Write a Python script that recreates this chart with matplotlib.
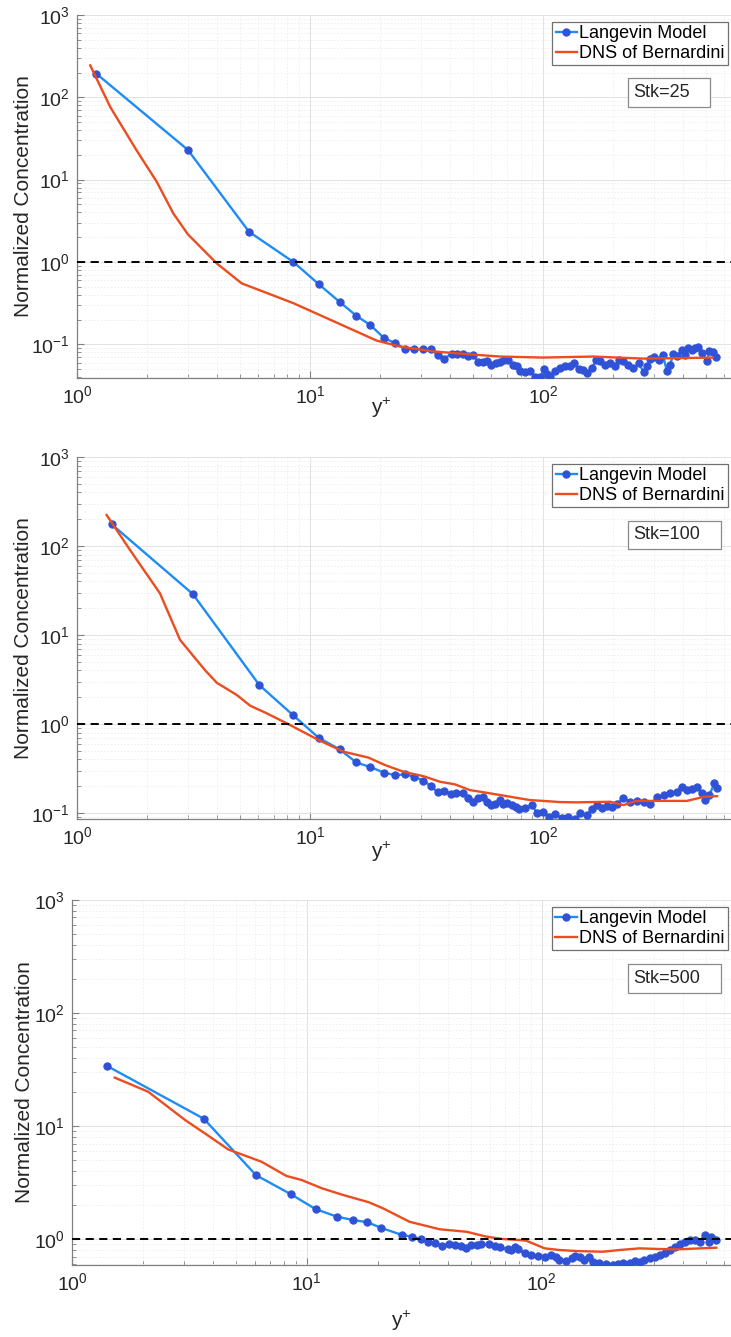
import matplotlib
matplotlib.use('Agg')
import matplotlib.pyplot as plt
from matplotlib.patches import Rectangle

plt.rcParams['font.family'] = ['Liberation Sans', 'DejaVu Sans']
plt.rcParams['mathtext.fontset'] = 'custom'
plt.rcParams['mathtext.rm'] = 'Liberation Sans'
plt.rcParams['mathtext.it'] = 'Liberation Sans:italic'
plt.rcParams['mathtext.default'] = 'regular'
plt.rcParams['axes.unicode_minus'] = False

# ---- Stk = 25 ----
stk25_lang_x = [1.21, 2.99, 5.47, 8.48, 10.9, 13.4, 15.8, 18.1, 20.8, 23.2, 25.6, 28.0, 30.6, 32.9,
                35.3, 37.7, 40.5, 42.9, 45.2, 47.5, 49.9, 52.7, 55.1, 57.3, 59.8, 62.7, 65.3, 68.0,
                71.0, 74.1, 77.1, 79.7, 83.7, 87.9, 92.4, 97.1, 101, 104, 107, 113, 118, 124, 131,
                136, 142, 149, 155, 162, 169, 176, 185, 194, 204, 211, 221, 232, 244, 257, 270, 279,
                288, 300, 313, 326, 340, 351, 362, 375, 394, 407, 420, 435, 449, 464, 480, 504, 517,
                538, 552]
stk25_lang_y = [194, 23, 2.33, 1.0, 0.537, 0.327, 0.222, 0.172, 0.119, 0.103, 0.088, 0.087, 0.088,
                0.087, 0.074, 0.067, 0.077, 0.077, 0.077, 0.073, 0.075, 0.061, 0.061, 0.062, 0.056,
                0.059, 0.061, 0.065, 0.064, 0.056, 0.055, 0.048, 0.046, 0.047, 0.040, 0.040, 0.050,
                0.043, 0.041, 0.047, 0.051, 0.054, 0.055, 0.059, 0.050, 0.049, 0.045, 0.051, 0.065,
                0.062, 0.056, 0.059, 0.055, 0.065, 0.062, 0.056, 0.051, 0.059, 0.046, 0.054, 0.066,
                0.070, 0.065, 0.075, 0.047, 0.056, 0.077, 0.072, 0.086, 0.075, 0.090, 0.086, 0.090,
                0.092, 0.078, 0.062, 0.082, 0.080, 0.070]
stk25_dns_x = [1.14, 1.39, 1.80, 2.20, 2.59, 2.99, 3.98, 5.09, 8.48, 19.3, 24.3, 33.8, 47.0, 65.3,
               100, 164, 270, 535]
stk25_dns_y = [244, 76, 22.8, 9.4, 3.89, 2.17, 0.96, 0.55, 0.316, 0.111, 0.094, 0.082, 0.076,
               0.071, 0.069, 0.071, 0.067, 0.069]

# ---- Stk = 100 ----
stk100_lang_x = [1.41, 3.14, 6.06, 8.48, 10.9, 13.4, 15.8, 18.1, 20.8, 23.2, 25.6, 28.0, 30.6, 32.9,
                 35.3, 37.7, 40.3, 42.5, 45.2, 47.8, 49.9, 52.4, 55.1, 57.3, 59.8, 62.3, 65.0, 67.6,
                 70.2, 73.3, 76.6, 78.9, 83.7, 89.4, 94.1, 100, 106, 113, 120, 128, 137, 144, 154,
                 162, 170, 179, 188, 197, 207, 221, 236, 252, 270, 288, 308, 329, 351, 375, 394,
                 414, 435, 457, 480, 496, 517, 543, 558]
stk100_lang_y = [175, 28.9, 2.74, 1.25, 0.70, 0.52, 0.37, 0.33, 0.284, 0.267, 0.272, 0.256, 0.231,
                 0.203, 0.171, 0.178, 0.162, 0.169, 0.166, 0.149, 0.134, 0.146, 0.152, 0.132, 0.123,
                 0.128, 0.140, 0.128, 0.131, 0.122, 0.118, 0.110, 0.113, 0.123, 0.101, 0.104, 0.091,
                 0.098, 0.087, 0.091, 0.085, 0.099, 0.095, 0.110, 0.123, 0.113, 0.120, 0.118, 0.128,
                 0.146, 0.134, 0.137, 0.134, 0.126, 0.150, 0.159, 0.169, 0.174, 0.198, 0.181, 0.185,
                 0.198, 0.166, 0.140, 0.159, 0.216, 0.189]
stk100_dns_x = [1.34, 1.69, 2.27, 2.77, 3.54, 3.98, 4.85, 5.53, 6.52, 7.94, 10.9, 13.9, 17.8, 21.0,
                25.2, 30.6, 36.1, 41.9, 48.6, 57.3, 69.8, 79.7, 87.9, 100, 118, 139, 194, 221, 252,
                319, 414, 488, 558]
stk100_dns_y = [223, 90, 29.4, 8.8, 4.04, 2.91, 2.12, 1.61, 1.32, 1.02, 0.66, 0.49, 0.42, 0.346,
                0.291, 0.26, 0.225, 0.21, 0.181, 0.169, 0.155, 0.146, 0.140, 0.137, 0.133, 0.132,
                0.134, 0.123, 0.137, 0.137, 0.137, 0.152, 0.155]

# ---- Stk = 500 ----
stk500_lang_x = [1.41, 3.64, 6.07, 8.52, 10.9, 13.4, 15.8, 18.1, 20.6, 25.5, 28.1, 30.5, 32.8, 35.3,
                 37.8, 40.3, 42.8, 45.2, 47.5, 50.2, 52.8, 55.0, 59.7, 63.1, 66.2, 71.9, 74.3, 76.7,
                 79.3, 84.7, 90.4, 96.4, 103, 110, 115, 119, 127, 134, 138, 145, 152, 159, 165, 176,
                 188, 201, 211, 222, 237, 249, 261, 274, 288, 303, 318, 334, 351, 368, 387, 406,
                 427, 448, 470, 494, 516, 527, 550]
stk500_lang_y = [34.0, 11.6, 3.68, 2.50, 1.84, 1.58, 1.47, 1.41, 1.26, 1.085, 1.048, 1.0, 0.946,
                 0.916, 0.873, 0.903, 0.885, 0.867, 0.827, 0.885, 0.885, 0.903, 0.898, 0.867, 0.845,
                 0.816, 0.80, 0.845, 0.81, 0.757, 0.722, 0.707, 0.697, 0.722, 0.688, 0.652, 0.643,
                 0.675, 0.707, 0.688, 0.652, 0.688, 0.63, 0.61, 0.60, 0.59, 0.60, 0.617, 0.61, 0.643,
                 0.63, 0.652, 0.675, 0.688, 0.722, 0.757, 0.80, 0.855, 0.903, 0.946, 0.98, 0.98,
                 0.946, 1.085, 0.946, 1.048, 0.98]
stk500_dns_x = [1.52, 2.11, 3.03, 3.68, 4.63, 6.41, 8.2, 9.5, 11.6, 14.3, 18.3, 21.1, 27.4, 36.8,
                47.8, 58.2, 68.4, 80.5, 86, 103, 119, 141, 182, 215, 261, 318, 374, 554]
stk500_dns_y = [26.8, 20.1, 11.3, 8.6, 6.2, 4.83, 3.61, 3.33, 2.81, 2.45, 2.12, 1.87, 1.42, 1.22,
                1.16, 1.05, 1.0, 0.98, 0.966, 0.827, 0.80, 0.783, 0.772, 0.80, 0.827, 0.816, 0.81,
                0.838]

stk_labels = ['Stk=25', 'Stk=100', 'Stk=500']
y_bottoms = [0.039, 0.0857, 0.59]

line_blue = '#1f8cf5'
mark_blue = '#2f52d6'
dns_red = '#ec4c1e'

# layout per panel: axes rect, stk box (x0, y0, x1, y1), xlabel coords, ylabel x
rects = [[0.1053, 0.7173, 0.8947, 0.2715],
         [0.1053, 0.3874, 0.8947, 0.2708],
         [0.0985, 0.0539, 0.9015, 0.2730]]
stk_boxes = [(0.842, 0.747, 0.968, 0.826),
             (0.842, 0.746, 0.985, 0.824),
             (0.843, 0.745, 0.985, 0.825)]
xlab_pos = [(0.466, -0.05), (0.466, -0.058), (0.50, -0.12)]
ylab_x = [-0.067, -0.067, -0.058]

data = [(stk25_lang_x, stk25_lang_y, stk25_dns_x, stk25_dns_y),
        (stk100_lang_x, stk100_lang_y, stk100_dns_x, stk100_dns_y),
        (stk500_lang_x, stk500_lang_y, stk500_dns_x, stk500_dns_y)]

fig = plt.figure(figsize=(7.31, 13.37), dpi=100)

for i in range(3):
    lx, ly, dx, dy = data[i]
    ax = fig.add_axes(rects[i])
    ax.plot(lx, ly, '-o', color=line_blue, lw=1.7, ms=5.2, mfc=mark_blue, mec=mark_blue,
            mew=0.8, label='Langevin Model', zorder=3)
    ax.plot(dx, dy, color=dns_red, lw=1.7, label='DNS of Bernardini', zorder=4)
    ax.axhline(1, color='k', ls=(0, (4.2, 2.8)), lw=1.4, zorder=5)
    ax.set_xscale('log')
    ax.set_yscale('log')
    ax.set_xlim(1, 640)
    ax.set_ylim(y_bottoms[i], 1000)

    ax.set_axisbelow(True)
    ax.grid(True, which='major', color='#e2e2e2', lw=0.7)
    ax.grid(True, which='minor', color='#ededed', lw=0.6, ls=(0, (2, 2)))
    for s in ['top', 'right']:
        ax.spines[s].set_visible(False)
    for s in ['left', 'bottom']:
        ax.spines[s].set_color('#808080')
        ax.spines[s].set_linewidth(0.9)
    ax.tick_params(which='both', direction='in', colors='#808080', labelcolor='#262626',
                   labelsize=14, pad=5)
    ax.tick_params(which='major', length=5)
    ax.tick_params(which='minor', length=3)

    ax.set_ylabel('Normalized Concentration', fontsize=15, color='#262626')
    ax.yaxis.set_label_coords(ylab_x[i], 0.5)
    ax.set_xlabel('y$^{+}$', fontsize=15, color='#262626')
    ax.xaxis.set_label_coords(*xlab_pos[i])

    leg = ax.legend(loc='upper right', bbox_to_anchor=(0.995, 0.982), fontsize=13,
                    frameon=True, fancybox=False, edgecolor='#707070', framealpha=1,
                    borderaxespad=0, handlelength=1.2, handletextpad=0.08, borderpad=0.2,
                    labelspacing=0.15)
    leg.get_frame().set_linewidth(0.9)

    x0, y0, x1, y1 = stk_boxes[i]
    ax.add_patch(Rectangle((x0, y0), x1 - x0, y1 - y0, transform=ax.transAxes,
                           facecolor='white', edgecolor='#8a8a8a', lw=0.9, zorder=6))
    ax.text(x0 + 0.008, (y0 + y1) / 2, stk_labels[i], transform=ax.transAxes, fontsize=13,
            ha='left', va='center', color='#262626', zorder=7)

fig.savefig('out.png', dpi=100)
